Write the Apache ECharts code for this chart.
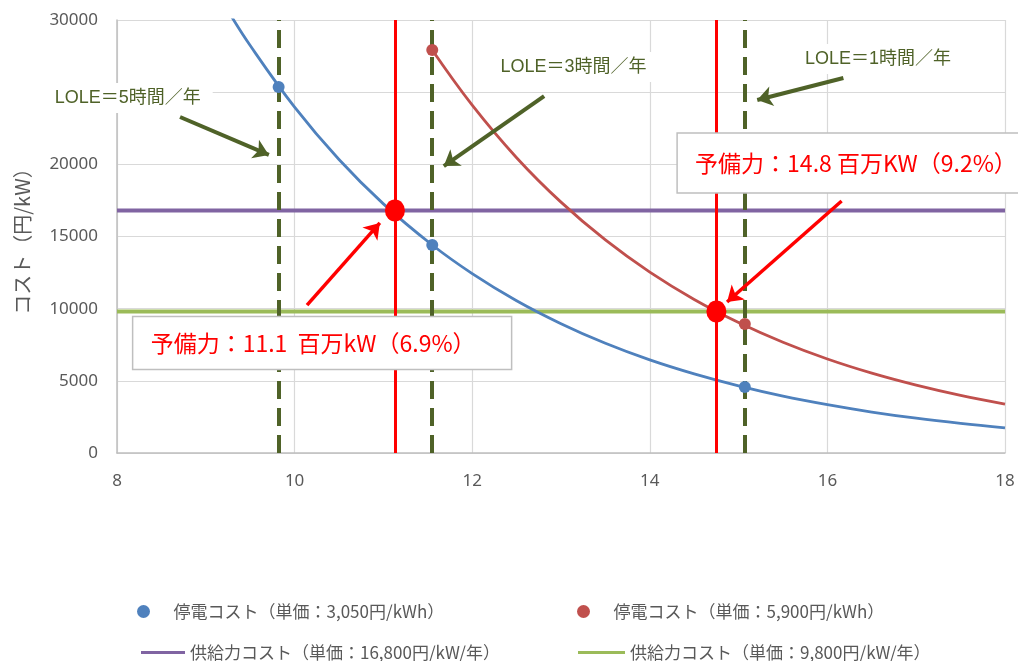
<!DOCTYPE html>
<html>
<head>
<meta charset="utf-8">
<script src="https://cdn.jsdelivr.net/npm/echarts@6/dist/echarts.min.js"></script>
<style>
  html, body { margin: 0; padding: 0; background: #fff; }
  #main { width: 1018px; height: 661px; }
</style>
</head>
<body>
<div id="main"></div>
<script>
// Reserve capacity (million kW) on the x axis, cost (yen/kW) on the y axis
const curveX      = [9.25, 9.5, 10, 10.5, 11, 11.55, 12, 12.5, 13, 13.5, 14, 14.5, 15, 15.5, 16, 16.5, 17, 17.5, 18];
const blueCost    = [30640, 28230, 23960, 20330, 17260, 14410, 12430, 10550, 8960, 7600, 6450, 5480, 4650, 3940, 3350, 2840, 2410, 2050, 1740];
const redCurveX   = [11.55, 12, 12.5, 13, 13.5, 14, 14.5, 15, 15.5, 16, 16.5, 17, 17.5, 18];
const redCost     = [27920, 24100, 20460, 17380, 14760, 12530, 10640, 9040, 7670, 6510, 5530, 4700, 3990, 3390];

// LOLE points (5h, 3h, 1h per year)
const loleX       = [9.82, 11.55, 15.07];
const blueAtLole  = [25360, 14410, 4570];
const redAtLole   = [null, 27920, 8940];
const loleLabels  = ['LOLE＝5時間／年', 'LOLE＝3時間／年', 'LOLE＝1時間／年'];

// Supply cost levels (yen/kW/year)
const supplyHigh  = 16800;
const supplyLow   = 9800;

// Optimal reserve points
const reserveX    = [11.13, 14.75];
const reserveY    = [16800, 9800];
const reserveText = ['予備力：11.1  百万kW（6.9%）', '予備力：14.8 百万KW（9.2%）'];

const names = {
  blue:   '停電コスト（単価：3,050円/kWh）',
  red:    '停電コスト（単価：5,900円/kWh）',
  purple: '供給力コスト（単価：16,800円/kW/年）',
  green:  '供給力コスト（単価：9,800円/kW/年）'
};

const xTicks = { min: 8, max: 18, step: 2 };
const yTicks = { min: 0, max: 30000, step: 5000 };

// annotation anchors in data space
const loleLabelAt   = [[8.12, 24600], [13.14, 26740], [16.57, 27300]];
const loleArrows    = [[[8.71, 23280], [9.71, 20650]], [[12.81, 24730], [11.68, 19880]], [[16.18, 25980], [15.21, 24460]]];
const reserveBoxAt  = [[10.31, 7620], [16.25, 20090]];
const reserveArrows = [[[10.14, 10250], [10.96, 15940]], [[16.16, 17460], [14.87, 10460]]];

const OLIVE = '#4F6228';
const CJK = '"Noto Sans CJK JP", "Noto Sans", sans-serif';

const chart = echarts.init(document.getElementById('main'));

const pairs = (xs, ys) => xs.map((x, i) => [x, ys[i]]).filter(p => p[1] != null);

const legendBase = {
  selectedMode: false,
  textStyle: { color: '#595959', fontSize: 17, fontFamily: CJK }
};

chart.setOption({
  animation: false,
  backgroundColor: '#fff',
  grid: { left: 117, right: 13, top: 20, bottom: 208 },
  xAxis: {
    type: 'value', min: xTicks.min, max: xTicks.max, interval: xTicks.step,
    axisLine: { show: true, lineStyle: { color: '#BFBFBF', width: 1.5 } },
    axisTick: { show: false },
    axisLabel: { color: '#595959', fontSize: 17, fontFamily: '"Noto Sans", sans-serif', margin: 20 },
    splitLine: { show: true, lineStyle: { color: '#D9D9D9', width: 1.2 } }
  },
  yAxis: {
    type: 'value', min: yTicks.min, max: yTicks.max, interval: yTicks.step,
    name: 'コスト（円/kW）', nameLocation: 'middle', nameGap: 85, nameRotate: 90,
    nameTextStyle: { color: '#595959', fontSize: 20, fontFamily: CJK },
    axisLine: { show: true, lineStyle: { color: '#BFBFBF', width: 1.5 } },
    axisTick: { show: false },
    axisLabel: {
      color: '#595959', fontSize: 17, fontFamily: '"Noto Sans", sans-serif', margin: 19,
      formatter: v => String(v)
    },
    splitLine: { show: true, lineStyle: { color: '#D9D9D9', width: 1.2 } }
  },
  legend: [
    Object.assign({ data: [names.blue],   left: 132, top: 598, itemWidth: 50, itemHeight: 13, itemGap: 0 }, legendBase),
    Object.assign({ data: [names.red],    left: 572, top: 598, itemWidth: 50, itemHeight: 13, itemGap: 0 }, legendBase),
    Object.assign({ data: [{ name: names.purple, icon: 'rect' }], left: 136, top: 639, itemWidth: 44, itemHeight: 3, itemGap: 0 }, legendBase),
    Object.assign({ data: [{ name: names.green,  icon: 'rect' }], left: 573, top: 639, itemWidth: 47, itemHeight: 3, itemGap: 0 }, legendBase)
  ],
  series: [
    {
      type: 'line', name: names.purple, data: [[xTicks.min, supplyHigh], [xTicks.max, supplyHigh]],
      symbol: 'none', color: '#8064A2', lineStyle: { width: 4, color: '#8064A2' }, z: 2, silent: true
    },
    {
      type: 'line', name: names.green, data: [[xTicks.min, supplyLow], [xTicks.max, supplyLow]],
      symbol: 'none', color: '#9BBB59', lineStyle: { width: 4, color: '#9BBB59' }, z: 2, silent: true
    },
    {
      type: 'line', name: 'blueCurve', data: pairs(curveX, blueCost), smooth: 0.4,
      symbol: 'none', lineStyle: { width: 2.8, color: '#4F81BD' }, z: 3, silent: true
    },
    {
      type: 'line', name: 'redCurve', data: pairs(redCurveX, redCost), smooth: 0.4,
      symbol: 'none', lineStyle: { width: 2.8, color: '#C0504D' }, z: 3, silent: true,
      // LOLE dashed verticals
      markLine: {
        silent: true, symbol: 'none', label: { show: false },
        lineStyle: { color: OLIVE, width: 4, type: [18, 9] },
        data: loleX.map(x => ({ xAxis: x }))
      }
    },
    {
      type: 'line', name: 'reserveLines', data: [], symbol: 'none', z: 4, silent: true,
      markLine: {
        silent: true, symbol: 'none', label: { show: false },
        lineStyle: { color: '#FF0000', width: 3, type: 'solid' },
        data: reserveX.map(x => ({ xAxis: x }))
      }
    },
    {
      type: 'line', name: 'arrows', data: [], symbol: 'none', z: 20, silent: true,
      markLine: {
        silent: true, symbol: ['none', 'arrow'], symbolSize: 15, label: { show: false },
        data: [
          ...loleArrows.map(a => [
            { coord: a[0], lineStyle: { color: OLIVE, width: 4, type: 'solid' } },
            { coord: a[1] }
          ]),
          ...reserveArrows.map(a => [
            { coord: a[0], lineStyle: { color: '#FF0000', width: 3.5, type: 'solid' } },
            { coord: a[1] }
          ])
        ]
      }
    },
    {
      type: 'scatter', name: names.blue, data: pairs(loleX, blueAtLole),
      symbol: 'circle', symbolSize: 12, itemStyle: { color: '#4F81BD', opacity: 1 }, z: 5
    },
    {
      type: 'scatter', name: names.red, data: pairs(loleX, redAtLole),
      symbol: 'circle', symbolSize: 12, itemStyle: { color: '#C0504D', opacity: 1 }, z: 5
    },
    {
      type: 'scatter', name: 'reservePoints', data: pairs(reserveX, reserveY),
      symbol: 'circle', symbolSize: [20, 22], itemStyle: { color: '#FF0000', opacity: 1 }, z: 21
    }
  ]
});

// Text annotations placed from data anchors
function drawAnnotations() {
  const px = p => chart.convertToPixel({ gridIndex: 0 }, p);
  const g = [];
  loleLabels.forEach((t, i) => {
    const c = px(loleLabelAt[i]);
    g.push({
      type: 'text', x: c[0], y: c[1], z: 8,
      style: {
        text: t, fill: OLIVE, font: '18px "Liberation Sans", ' + CJK,
        align: 'center', verticalAlign: 'middle',
        backgroundColor: '#fff', padding: [6, 12]
      }
    });
  });
  const boxSize = [[379, 53], [345, 60]];
  reserveText.forEach((t, i) => {
    const c = px(reserveBoxAt[i]);
    const [w, h] = boxSize[i];
    const left = c[0] - w / 2;
    g.push({
      type: 'rect', shape: { x: left, y: c[1] - h / 2, width: w, height: h }, z: 15,
      style: { fill: '#fff', stroke: '#BFBFBF', lineWidth: 1.5 }
    });
    g.push({
      type: 'text', x: left + 18, y: c[1], z: 16,
      style: {
        text: t, fill: '#FF0000', font: '23px ' + CJK,
        align: 'left', verticalAlign: 'middle'
      }
    });
  });
  chart.setOption({ graphic: g });
}
drawAnnotations();
</script>
</body>
</html>
